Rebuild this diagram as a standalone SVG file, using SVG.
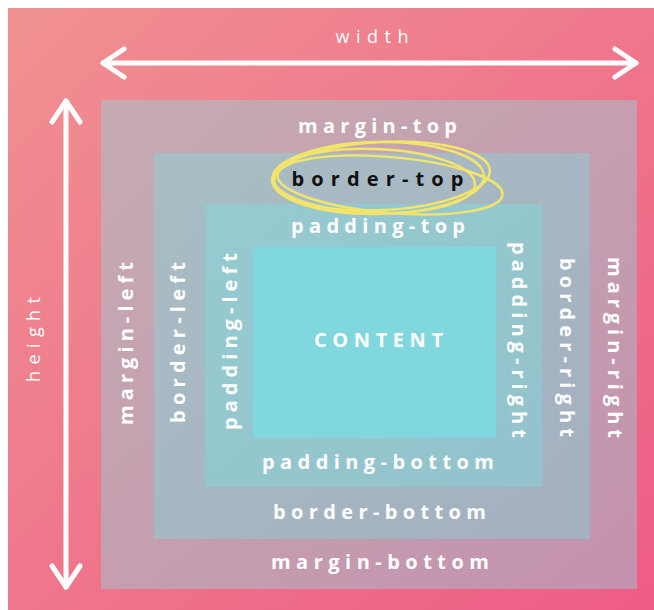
<svg xmlns="http://www.w3.org/2000/svg" width="654" height="610" viewBox="0 0 654 610">
<defs>
<linearGradient id="gBg" x1="0" y1="0" x2="1" y2="1">
<stop offset="0" stop-color="#f09191"/>
<stop offset="1" stop-color="#ee5c86"/>
</linearGradient>
<linearGradient id="gMargin" x1="0" y1="0" x2="1" y2="1">
<stop offset="0" stop-color="#c5abb2"/>
<stop offset="1" stop-color="#c492ad"/>
</linearGradient>
<linearGradient id="gBorder" x1="0" y1="0" x2="1" y2="1">
<stop offset="0" stop-color="#a9bec4"/>
<stop offset="1" stop-color="#a4afc0"/>
</linearGradient>
<linearGradient id="gPadding" x1="0" y1="0" x2="1" y2="1">
<stop offset="0" stop-color="#97cad0"/>
<stop offset="1" stop-color="#93c3cc"/>
</linearGradient>
<style>
.lbl{font-family:"Open Sans","Liberation Sans",sans-serif;font-size:20px;font-weight:700;fill:#ffffff;text-anchor:middle}
.dark{fill:#111111}
.thin{font-family:"Open Sans","Liberation Sans",sans-serif;font-size:18px;font-weight:400;fill:#ffffff;text-anchor:middle}
.arrow{fill:none;stroke:#ffffff;stroke-width:5;stroke-linecap:round;stroke-linejoin:round}
.scribble{fill:none;stroke:#f3e46b;stroke-width:2.4}
</style>
</defs>

<rect x="8" y="8" width="646" height="602" fill="url(#gBg)"/>

<g id="margin-box">
<rect x="101" y="100" width="536" height="489" fill="url(#gMargin)"/>
<text class="lbl" x="377.5" y="133" textLength="159" lengthAdjust="spacing">margin-top</text>
<text class="lbl" x="380" y="569" textLength="218" lengthAdjust="spacing">margin-bottom</text>
<text class="lbl" transform="translate(133,343.5) rotate(-90)" textLength="163" lengthAdjust="spacing">margin-left</text>
<text class="lbl" transform="translate(608,347.5) rotate(90)" textLength="181" lengthAdjust="spacing">margin-right</text>
</g>

<g id="border-box">
<rect x="154" y="153" width="436" height="386" fill="url(#gBorder)"/>
<text class="lbl dark" x="377.5" y="186" textLength="172" lengthAdjust="spacing">border-top</text>
<text class="lbl" x="379.5" y="519" textLength="213" lengthAdjust="spacing">border-bottom</text>
<text class="lbl" transform="translate(185,342.5) rotate(-90)" textLength="161" lengthAdjust="spacing">border-left</text>
<text class="lbl" transform="translate(560,347.5) rotate(90)" textLength="179" lengthAdjust="spacing">border-right</text>
</g>

<g id="padding-box">
<rect x="205" y="204" width="337" height="283" fill="url(#gPadding)"/>
<text class="lbl" x="378" y="233" textLength="174" lengthAdjust="spacing">padding-top</text>
<text class="lbl" x="378" y="469" textLength="232" lengthAdjust="spacing">padding-bottom</text>
<text class="lbl" transform="translate(237,341.5) rotate(-90)" textLength="177" lengthAdjust="spacing">padding-left</text>
<text class="lbl" transform="translate(512,340) rotate(90)" textLength="196" lengthAdjust="spacing">padding-right</text>
</g>

<g id="content-box">
<rect x="253" y="247" width="243" height="191" fill="#80d8de"/>
<text class="lbl" x="378.5" y="347" textLength="129" lengthAdjust="spacing">CONTENT</text>
</g>

<g id="highlight">
<ellipse class="scribble" cx="378" cy="178" rx="106" ry="36" transform="rotate(-1 378 178)"/>
<ellipse class="scribble" cx="390" cy="185" rx="113" ry="28" transform="rotate(5 390 185)"/>
<ellipse class="scribble" cx="374" cy="181" rx="101" ry="32" transform="rotate(2 374 181)"/>
<ellipse class="scribble" cx="382" cy="176" rx="108" ry="34" transform="rotate(-3 382 176)"/>
</g>

<g id="connectors">
<g id="width-arrow">
<path class="arrow" d="M103 63 H636"/>
<path class="arrow" d="M124 49 L103 63 L124 77"/>
<path class="arrow" d="M615 49 L636 63 L615 77"/>
</g>
<g id="height-arrow">
<path class="arrow" d="M66 101 V587"/>
<path class="arrow" d="M52 122 L66 101 L80 122"/>
<path class="arrow" d="M52 566 L66 587 L80 566"/>
</g>
</g>

<g id="width-label">
<text class="thin" x="372" y="43" textLength="73" lengthAdjust="spacing">width</text>
</g>
<g id="height-label">
<text class="thin" transform="translate(40,339.5) rotate(-90)" textLength="85" lengthAdjust="spacing">height</text>
</g>
</svg>
